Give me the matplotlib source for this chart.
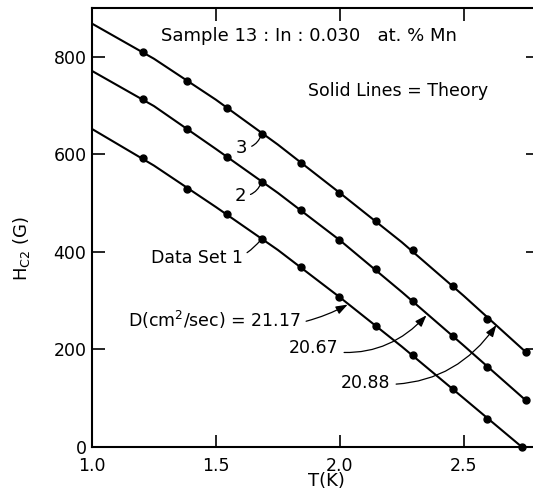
import matplotlib
matplotlib.use("Agg")
import matplotlib.pyplot as plt

plt.rcParams['font.family'] = ['DejaVu Sans']
plt.rcParams['mathtext.default'] = 'regular'

# measured points (T in K, Hc2 in gauss)
T_set3 = [1.205, 1.385, 1.545, 1.685, 1.845, 1.995, 2.145, 2.295, 2.455, 2.595, 2.75]
H_set3 = [810, 751, 695, 642, 583, 521, 464, 404, 330, 263, 195]
T_set2 = [1.205, 1.385, 1.545, 1.685, 1.845, 1.995, 2.145, 2.295, 2.455, 2.595, 2.75]
H_set2 = [714, 652, 595, 544, 486, 425, 365, 299, 228, 164, 96]
T_set1 = [1.205, 1.385, 1.545, 1.685, 1.845, 1.995, 2.145, 2.295, 2.455, 2.595, 2.735]
H_set1 = [593, 529, 478, 427, 369, 308, 248, 189, 119, 57, 0]

# theory curves
T_th = [1.0, 1.25, 1.5, 1.75, 2.0, 2.25, 2.5, 2.75]
H_th3 = [868, 796, 712, 620, 521, 420, 310, 195]
H_th2 = [771, 699, 611, 521, 424, 318, 208, 96]
T_th1 = [1.0, 1.25, 1.5, 1.75, 2.0, 2.25, 2.5, 2.735]
H_th1 = [652, 577, 492, 404, 307, 206, 100, 0]

D_labels = ['21.17', '20.67', '20.88']

fig = plt.figure(figsize=(5.33, 4.91), dpi=100)
ax = fig.add_axes([92 / 533, 44 / 491, 446 / 533, 439 / 491])

lw = 1.5
for T, H in [(T_th, H_th3), (T_th, H_th2), (T_th1, H_th1)]:
    ax.plot(T, H, color='black', lw=lw, solid_capstyle='butt')
for T, H in [(T_set3, H_set3), (T_set2, H_set2), (T_set1, H_set1)]:
    ax.plot(T, H, 'o', color='black', ms=5, clip_on=False, zorder=3)

ax.set_xlim(1.0, 2.8)
ax.set_ylim(0, 900)
ax.set_xticks([1.0, 1.5, 2.0, 2.5])
ax.set_xticklabels(['1.0', '1.5', '2.0', '2.5'])
ax.set_yticks([0, 200, 400, 600, 800])
ax.tick_params(direction='in', length=9, width=1.2, labelsize=12.5,
               top=True, right=True, color='black')
ax.tick_params(axis='x', pad=7)
ax.tick_params(axis='y', pad=4)
for s in ax.spines.values():
    s.set_linewidth(1.5)

ax.text(1.875, 843, 'Sample 13 : In : 0.030   at. % Mn', fontsize=13,
        ha='center', va='center')
ax.text(2.234, 730, 'Solid Lines = Theory', fontsize=12.5,
        ha='center', va='center')

# curve labels with short leaders
leader = dict(arrowstyle='-', lw=0.9, color='black',
              connectionstyle='arc3,rad=0.35', shrinkA=1, shrinkB=1)
ax.annotate('3', xy=(1.685, 642), xytext=(1.605, 612), fontsize=13,
            ha='center', va='center', arrowprops=leader)
ax.annotate('2', xy=(1.685, 544), xytext=(1.600, 514), fontsize=13,
            ha='center', va='center', arrowprops=leader)
ax.annotate('Data Set 1', xy=(1.685, 427), xytext=(1.61, 388), fontsize=12.5,
            ha='right', va='center', arrowprops=leader)

# diffusion constants, arrows to each curve
arrow = dict(arrowstyle='-|>,head_length=0.7,head_width=0.25', lw=0.9,
             color='black', shrinkA=2, shrinkB=0, mutation_scale=10)
ax.annotate(r'D(cm$^2$/sec) = ' + D_labels[0], xy=(2.032, 292), xytext=(1.842, 260),
            fontsize=12.5, ha='right', va='center',
            arrowprops=dict(arrow, connectionstyle='arc3,rad=0.2'))
ax.annotate(D_labels[1], xy=(2.35, 270), xytext=(1.995, 203),
            fontsize=12.5, ha='right', va='center',
            arrowprops=dict(arrow, connectionstyle='arc3,rad=0.3'))
ax.annotate(D_labels[2], xy=(2.632, 250), xytext=(2.205, 131),
            fontsize=12.5, ha='right', va='center',
            arrowprops=dict(arrow, connectionstyle='arc3,rad=0.3'))

ax.text(1.945, -70, 'T(K)', fontsize=13, ha='center', va='center')
fig.text(22 / 533, 1 - 248 / 491, r'H$_{C2}$ (G)', fontsize=13,
         rotation=90, ha='center', va='center')

fig.savefig('out.png', dpi=100)
